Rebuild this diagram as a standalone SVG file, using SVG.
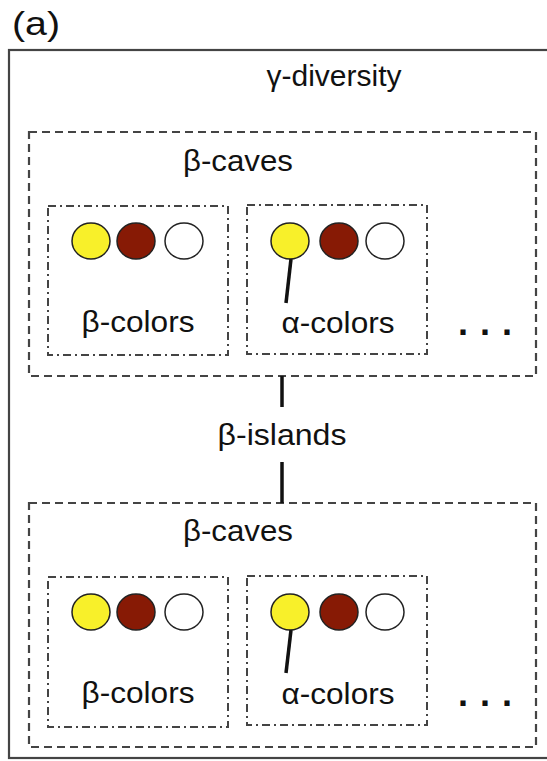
<svg xmlns="http://www.w3.org/2000/svg" width="547" height="761" viewBox="0 0 547 761">
<style>
text{font-family:"Liberation Sans",Arial,sans-serif;fill:#111}
.lbl{font-size:30px;text-anchor:middle}
.outer{fill:none;stroke:#444;stroke-width:2.2}
.cave{fill:none;stroke:#444;stroke-width:2.2;stroke-dasharray:8 5}
.col{fill:none;stroke:#444;stroke-width:2;stroke-dasharray:8 4 2 4}
.y{fill:#f8f02a;stroke:#222;stroke-width:1.5}
.r{fill:#871a05;stroke:#222;stroke-width:1.5}
.w{fill:#fff;stroke:#222;stroke-width:1.5}
.conn{stroke:#111;stroke-width:3.5;fill:none}
.dots{font-size:36px;font-weight:bold}
</style>
<rect width="547" height="761" fill="#fff"/>
<text x="12" y="35" style="font-size:34px" textLength="48" lengthAdjust="spacingAndGlyphs">(a)</text>
<g id="gamma">
<rect class="outer" x="9" y="50" width="545" height="708"/>
<text class="lbl" x="334" y="86" textLength="135" lengthAdjust="spacingAndGlyphs">γ-diversity</text>
</g>
<g id="caves1">
<rect class="cave" x="29" y="132" width="507" height="244"/>
<text class="lbl" x="238" y="171" textLength="110" lengthAdjust="spacingAndGlyphs">β-caves</text>
<text class="dots" x="458" y="335" letter-spacing="12">...</text>
</g>
<g id="colors1a">
<rect class="col" x="48" y="206" width="180" height="149"/>
<ellipse class="y" cx="91" cy="241" rx="19" ry="18"/>
<ellipse class="r" cx="136" cy="241" rx="19" ry="18"/>
<ellipse class="w" cx="184" cy="241" rx="19" ry="18"/>
<text class="lbl" x="138" y="332" textLength="113" lengthAdjust="spacingAndGlyphs">β-colors</text>
</g>
<g id="colors1b">
<rect class="col" x="247" y="205" width="180" height="149"/>
<ellipse class="y" cx="290" cy="241" rx="19" ry="18"/>
<ellipse class="r" cx="339" cy="241" rx="19" ry="18"/>
<ellipse class="w" cx="385" cy="241" rx="19" ry="18"/>
<text class="lbl" x="338" y="333" textLength="113" lengthAdjust="spacingAndGlyphs">α-colors</text>
</g>
<g id="islands">
<text class="lbl" x="282" y="445" textLength="129" lengthAdjust="spacingAndGlyphs">β-islands</text>
</g>
<g id="caves2">
<rect class="cave" x="29" y="503" width="507" height="244"/>
<text class="lbl" x="238" y="541" textLength="110" lengthAdjust="spacingAndGlyphs">β-caves</text>
<text class="dots" x="458" y="706" letter-spacing="12">...</text>
</g>
<g id="colors2a">
<rect class="col" x="48" y="577" width="180" height="150"/>
<ellipse class="y" cx="91" cy="612" rx="19" ry="18"/>
<ellipse class="r" cx="136" cy="612" rx="19" ry="18"/>
<ellipse class="w" cx="184" cy="612" rx="19" ry="18"/>
<text class="lbl" x="138" y="703" textLength="113" lengthAdjust="spacingAndGlyphs">β-colors</text>
</g>
<g id="colors2b">
<rect class="col" x="247" y="576" width="180" height="149"/>
<ellipse class="y" cx="290" cy="612" rx="19" ry="18"/>
<ellipse class="r" cx="339" cy="612" rx="19" ry="18"/>
<ellipse class="w" cx="385" cy="612" rx="19" ry="18"/>
<text class="lbl" x="338" y="704" textLength="113" lengthAdjust="spacingAndGlyphs">α-colors</text>
</g>
<g id="connectors">
<line class="conn" x1="282" y1="376" x2="282" y2="407"/>
<line class="conn" x1="282" y1="462" x2="282" y2="503"/>
<line class="conn" x1="291" y1="259" x2="286" y2="303"/>
<line class="conn" x1="291" y1="630" x2="286" y2="673"/>
</g>
</svg>
